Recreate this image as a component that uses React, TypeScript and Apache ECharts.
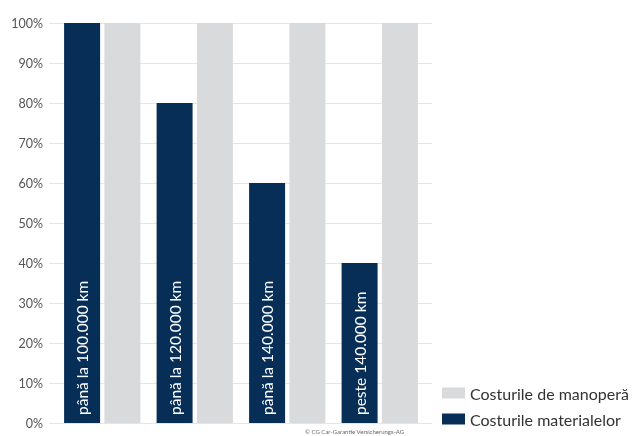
import React, { useEffect, useRef } from "react";
import * as echarts from "echarts";

const categories = ["până la 100.000 km", "până la 120.000 km", "până la 140.000 km", "peste 140.000 km"];
const materialCosts = [100, 80, 60, 40];
const labourCosts = [100, 100, 100, 100];
const seriesNames = ["Costurile materialelor", "Costurile de manoperă"];
const yTicks = [0, 10, 20, 30, 40, 50, 60, 70, 80, 90, 100];
const copyright = "© CG Car-Garantie Versicherungs-AG";

export default function App() {
  const ref = useRef<HTMLDivElement>(null);
  useEffect(() => {
    if (!ref.current) return;
    const chart = echarts.init(ref.current, undefined, { renderer: "svg" });
    const font = "Lato, 'Open Sans', sans-serif";
    chart.setOption({
      animation: false,
      textStyle: { fontFamily: font },
      grid: [
        { left: 49, right: 201, top: 23, bottom: 13 },
        { left: 56, right: 207, top: 23, bottom: 13 },
      ],
      xAxis: [
        { type: "category", gridIndex: 0, data: categories, show: false },
        {
          type: "category",
          gridIndex: 1,
          data: categories,
          axisLine: { show: false },
          axisTick: { show: false },
          axisLabel: { show: false },
        },
      ],
      yAxis: [
        {
          type: "value",
          gridIndex: 0,
          min: yTicks[0],
          max: yTicks[yTicks.length - 1],
          interval: 10,
          axisLine: { show: false },
          axisTick: { show: false },
          axisLabel: {
            formatter: (v: number) => v + "%",
            color: "#555",
            fontSize: 12.5,
            margin: 6,
            fontFamily: font,
          },
          splitLine: { lineStyle: { color: "#e6e6e6", width: 1 } },
        },
        {
          type: "value",
          gridIndex: 1,
          min: 0,
          max: 100,
          interval: 10,
          show: false,
          splitLine: { show: false },
        },
      ],
      legend: {
        data: [seriesNames[1], seriesNames[0]],
        orient: "vertical",
        left: 442,
        top: 385,
        padding: 0,
        icon: "rect",
        itemWidth: 23,
        itemHeight: 11,
        itemGap: 10,
        textStyle: { color: "#333", fontSize: 16, fontFamily: font },
      },
      series: [
        {
          name: seriesNames[0],
          type: "bar",
          xAxisIndex: 1,
          yAxisIndex: 1,
          data: materialCosts,
          barWidth: 36,
          barGap: "12%",
          itemStyle: { color: "#062e57" },
          label: {
            show: true,
            position: "insideBottom",
            rotate: 90,
            align: "left",
            verticalAlign: "middle",
            distance: 8,
            formatter: (p: any) => p.name,
            color: "#ffffff",
            fontSize: 15.5,
            fontFamily: font,
          },
        },
        {
          name: seriesNames[1],
          type: "bar",
          xAxisIndex: 1,
          yAxisIndex: 1,
          data: labourCosts,
          barWidth: 36,
          itemStyle: { color: "#d9dadc" },
        },
      ],
      graphic: [
        {
          type: "text",
          left: 305,
          top: 428,
          style: { text: copyright, fontSize: 6, fill: "#666", fontFamily: font },
        },
      ],
    });
    return () => chart.dispose();
  }, []);
  return (
    <div
      ref={ref}
      style={{ position: "fixed", left: 0, top: 0, width: 633, height: 436 }}
    />
  );
}
